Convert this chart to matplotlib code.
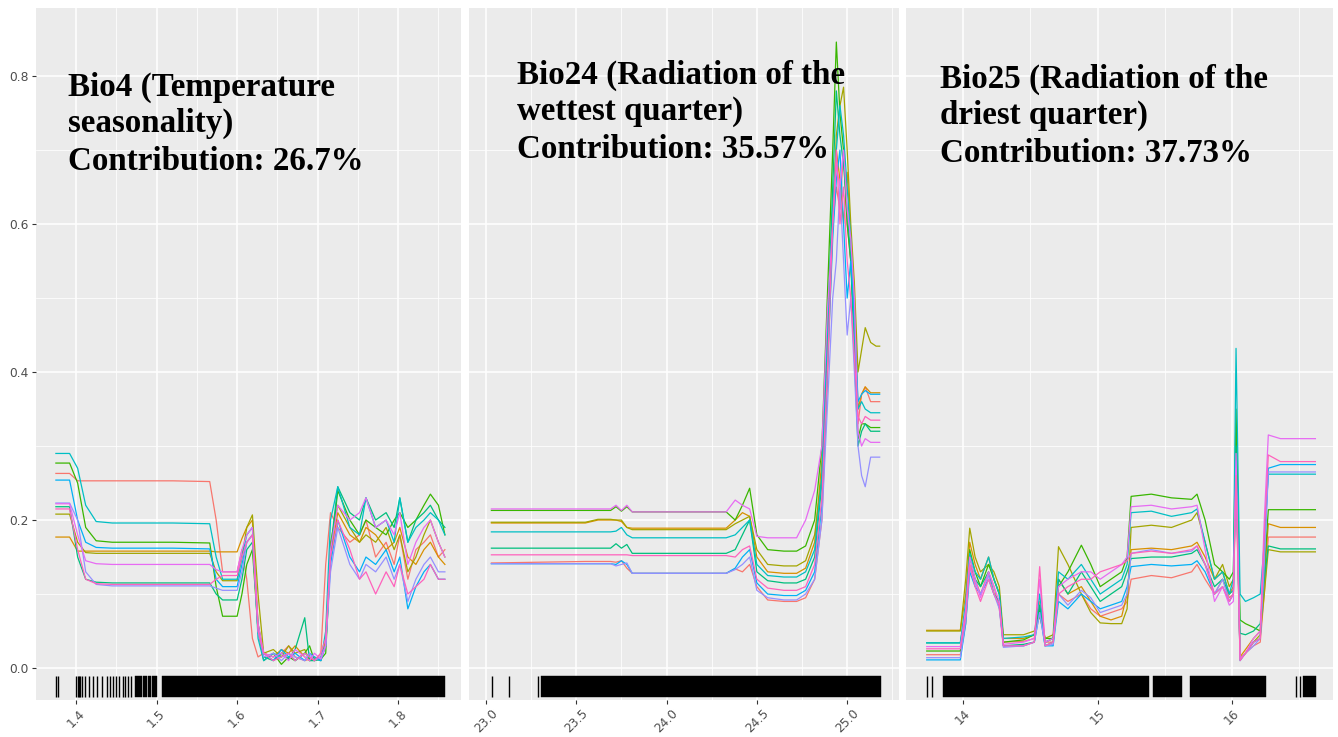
import numpy as np
import matplotlib
matplotlib.use('Agg')
import matplotlib.pyplot as plt
from matplotlib.ticker import MultipleLocator

# ggplot hue colours for the 10 model runs
run_colors = ['#F8766D', '#D89000', '#A3A500', '#39B600', '#00BF7D',
              '#00BFC4', '#00B0F6', '#9590FF', '#E76BF3', '#FF62BC']

# ---- Bio4 ----
bio4_x = [1.375, 1.392, 1.402, 1.412, 1.425, 1.445, 1.520, 1.566, 1.574, 1.582,
          1.600, 1.606, 1.612, 1.619, 1.626, 1.633, 1.645, 1.655, 1.664, 1.672,
          1.684, 1.690, 1.696, 1.704, 1.710, 1.716, 1.725, 1.740, 1.752, 1.760,
          1.772, 1.785, 1.795, 1.802, 1.812, 1.822, 1.832, 1.840, 1.850, 1.858]
bio4_y = [
    [0.263, 0.263, 0.253, 0.253, 0.253, 0.253, 0.253, 0.252, 0.20, 0.13, 0.13, 0.16, 0.12, 0.04, 0.015, 0.02, 0.015, 0.02, 0.03, 0.015,
     0.01, 0.012, 0.01, 0.02, 0.14, 0.21, 0.19, 0.17, 0.18, 0.20, 0.15, 0.17, 0.14, 0.18, 0.12, 0.16, 0.17, 0.18, 0.15, 0.16],
    [0.177, 0.177, 0.158, 0.158, 0.158, 0.158, 0.158, 0.158, 0.157, 0.157, 0.157, 0.175, 0.19, 0.20, 0.06, 0.02, 0.015, 0.025, 0.02, 0.03,
     0.015, 0.01, 0.012, 0.015, 0.03, 0.15, 0.21, 0.18, 0.17, 0.19, 0.18, 0.16, 0.17, 0.19, 0.15, 0.14, 0.16, 0.17, 0.15, 0.14],
    [0.208, 0.208, 0.17, 0.156, 0.155, 0.155, 0.155, 0.155, 0.13, 0.118, 0.118, 0.15, 0.19, 0.207, 0.10, 0.02, 0.025, 0.015, 0.03, 0.02,
     0.025, 0.01, 0.015, 0.01, 0.04, 0.17, 0.22, 0.19, 0.17, 0.18, 0.17, 0.19, 0.16, 0.18, 0.13, 0.15, 0.18, 0.20, 0.17, 0.15],
    [0.277, 0.277, 0.25, 0.19, 0.172, 0.17, 0.17, 0.169, 0.11, 0.07, 0.07, 0.10, 0.14, 0.16, 0.05, 0.01, 0.02, 0.005, 0.015, 0.01,
     0.02, 0.03, 0.01, 0.012, 0.02, 0.15, 0.24, 0.20, 0.18, 0.20, 0.19, 0.18, 0.20, 0.21, 0.19, 0.20, 0.22, 0.235, 0.22, 0.18],
    [0.218, 0.218, 0.15, 0.12, 0.116, 0.115, 0.115, 0.115, 0.10, 0.092, 0.092, 0.12, 0.16, 0.17, 0.06, 0.015, 0.01, 0.02, 0.012, 0.025,
     0.068, 0.01, 0.01, 0.015, 0.03, 0.16, 0.245, 0.21, 0.20, 0.23, 0.20, 0.21, 0.19, 0.23, 0.17, 0.20, 0.21, 0.22, 0.20, 0.19],
    [0.29, 0.29, 0.27, 0.22, 0.198, 0.196, 0.196, 0.195, 0.15, 0.12, 0.12, 0.15, 0.18, 0.19, 0.04, 0.01, 0.02, 0.015, 0.02, 0.01,
     0.02, 0.015, 0.012, 0.01, 0.05, 0.20, 0.245, 0.19, 0.18, 0.23, 0.19, 0.20, 0.17, 0.23, 0.17, 0.19, 0.20, 0.21, 0.20, 0.18],
    [0.254, 0.254, 0.20, 0.17, 0.163, 0.162, 0.162, 0.161, 0.12, 0.11, 0.11, 0.14, 0.17, 0.18, 0.05, 0.02, 0.01, 0.025, 0.015, 0.02,
     0.01, 0.02, 0.015, 0.01, 0.03, 0.14, 0.20, 0.15, 0.13, 0.15, 0.14, 0.16, 0.13, 0.15, 0.08, 0.11, 0.13, 0.14, 0.12, 0.12],
    [0.223, 0.223, 0.20, 0.13, 0.113, 0.111, 0.111, 0.111, 0.108, 0.105, 0.105, 0.13, 0.17, 0.18, 0.05, 0.015, 0.02, 0.01, 0.02, 0.015,
     0.01, 0.02, 0.01, 0.015, 0.03, 0.13, 0.19, 0.14, 0.12, 0.14, 0.13, 0.15, 0.12, 0.14, 0.09, 0.12, 0.14, 0.15, 0.13, 0.13],
    [0.222, 0.222, 0.18, 0.145, 0.141, 0.14, 0.14, 0.14, 0.133, 0.13, 0.13, 0.16, 0.18, 0.19, 0.06, 0.02, 0.015, 0.02, 0.01, 0.025,
     0.015, 0.01, 0.02, 0.012, 0.03, 0.16, 0.22, 0.20, 0.21, 0.23, 0.19, 0.20, 0.18, 0.21, 0.14, 0.17, 0.19, 0.20, 0.17, 0.15],
    [0.215, 0.215, 0.16, 0.12, 0.114, 0.113, 0.113, 0.113, 0.12, 0.125, 0.125, 0.15, 0.17, 0.18, 0.05, 0.02, 0.01, 0.015, 0.02, 0.01,
     0.02, 0.015, 0.01, 0.02, 0.04, 0.15, 0.20, 0.16, 0.12, 0.13, 0.10, 0.13, 0.11, 0.14, 0.10, 0.11, 0.12, 0.14, 0.12, 0.12],
]
bio4_rug_ticks = [1.375, 1.3776, 1.400, 1.4019, 1.4037, 1.405, 1.4075, 1.411, 1.4155, 1.421, 1.426,
                  1.4317, 1.438, 1.442, 1.446, 1.4497, 1.4538, 1.458, 1.461, 1.465, 1.468]
bio4_rug_spans = [(1.4733, 1.4820), (1.4835, 1.4880), (1.4893, 1.4930), (1.4942, 1.5006), (1.5068, 1.8584)]

# ---- Bio24 ----
bio24_x = [23.03, 23.55, 23.62, 23.69, 23.72, 23.75, 23.78, 23.81, 24.10, 24.33,
           24.38, 24.42, 24.46, 24.50, 24.56, 24.65, 24.72, 24.77, 24.82, 24.86,
           24.89, 24.92, 24.94, 24.96, 24.98, 25.00, 25.02, 25.04, 25.06, 25.08,
           25.10, 25.13, 25.16, 25.18]
bio24_y = [
    [0.142, 0.144, 0.144, 0.144, 0.143, 0.145, 0.135, 0.128, 0.128, 0.128, 0.134, 0.13, 0.14, 0.11, 0.092, 0.09, 0.09,
     0.095, 0.12, 0.20, 0.38, 0.60, 0.65, 0.62, 0.70, 0.60, 0.55, 0.45, 0.33, 0.37, 0.38, 0.36, 0.36, 0.36],
    [0.196, 0.196, 0.20, 0.20, 0.20, 0.198, 0.19, 0.189, 0.189, 0.189, 0.20, 0.21, 0.205, 0.15, 0.13, 0.128, 0.128,
     0.135, 0.17, 0.28, 0.45, 0.62, 0.70, 0.66, 0.60, 0.67, 0.58, 0.50, 0.35, 0.37, 0.38, 0.372, 0.372, 0.372],
    [0.197, 0.197, 0.201, 0.201, 0.20, 0.20, 0.19, 0.187, 0.187, 0.187, 0.195, 0.20, 0.205, 0.16, 0.14, 0.138, 0.138,
     0.145, 0.18, 0.26, 0.42, 0.60, 0.72, 0.76, 0.785, 0.70, 0.60, 0.52, 0.40, 0.43, 0.46, 0.44, 0.435, 0.435],
    [0.213, 0.213, 0.213, 0.213, 0.218, 0.212, 0.218, 0.211, 0.211, 0.211, 0.20, 0.22, 0.243, 0.18, 0.16, 0.158, 0.158,
     0.165, 0.20, 0.30, 0.50, 0.70, 0.846, 0.75, 0.70, 0.60, 0.55, 0.45, 0.31, 0.33, 0.33, 0.325, 0.325, 0.325],
    [0.162, 0.162, 0.162, 0.162, 0.168, 0.162, 0.167, 0.155, 0.155, 0.155, 0.16, 0.18, 0.20, 0.13, 0.118, 0.115, 0.115,
     0.12, 0.15, 0.25, 0.45, 0.65, 0.78, 0.72, 0.68, 0.62, 0.55, 0.42, 0.30, 0.32, 0.33, 0.32, 0.32, 0.32],
    [0.184, 0.184, 0.184, 0.184, 0.185, 0.19, 0.18, 0.176, 0.176, 0.176, 0.18, 0.19, 0.20, 0.14, 0.125, 0.123, 0.123,
     0.13, 0.16, 0.26, 0.45, 0.62, 0.70, 0.76, 0.72, 0.65, 0.58, 0.45, 0.35, 0.36, 0.35, 0.345, 0.345, 0.345],
    [0.141, 0.141, 0.141, 0.141, 0.14, 0.145, 0.14, 0.128, 0.128, 0.128, 0.135, 0.15, 0.16, 0.115, 0.10, 0.098, 0.098,
     0.105, 0.13, 0.22, 0.40, 0.58, 0.66, 0.70, 0.60, 0.50, 0.55, 0.48, 0.36, 0.37, 0.375, 0.37, 0.37, 0.37],
    [0.141, 0.141, 0.141, 0.141, 0.138, 0.14, 0.142, 0.128, 0.128, 0.128, 0.133, 0.14, 0.15, 0.105, 0.095, 0.092, 0.092,
     0.10, 0.12, 0.20, 0.35, 0.50, 0.55, 0.65, 0.55, 0.45, 0.50, 0.40, 0.30, 0.26, 0.245, 0.285, 0.285, 0.285],
    [0.215, 0.215, 0.215, 0.215, 0.22, 0.213, 0.22, 0.211, 0.211, 0.211, 0.227, 0.22, 0.215, 0.178, 0.176, 0.176, 0.176,
     0.20, 0.24, 0.30, 0.48, 0.60, 0.68, 0.65, 0.70, 0.62, 0.58, 0.50, 0.32, 0.30, 0.31, 0.305, 0.305, 0.305],
    [0.153, 0.153, 0.153, 0.153, 0.153, 0.153, 0.153, 0.152, 0.152, 0.152, 0.15, 0.16, 0.165, 0.12, 0.108, 0.105, 0.105,
     0.11, 0.14, 0.23, 0.40, 0.60, 0.70, 0.60, 0.65, 0.55, 0.50, 0.42, 0.34, 0.33, 0.34, 0.335, 0.335, 0.335],
]
bio24_rug_ticks = [23.033, 23.127, 23.290]
bio24_rug_spans = [(23.305, 25.187)]

# ---- Bio25 ----
bio25_x = [13.73, 13.98, 14.02, 14.05, 14.09, 14.13, 14.19, 14.23, 14.27, 14.30,
           14.45, 14.53, 14.57, 14.61, 14.67, 14.71, 14.78, 14.88, 14.95, 15.02,
           15.10, 15.18, 15.22, 15.25, 15.40, 15.55, 15.70, 15.74, 15.80, 15.87,
           15.93, 15.98, 16.01, 16.03, 16.06, 16.10, 16.16, 16.21, 16.24, 16.27,
           16.36, 16.62]
bio25_y = [
    [0.018, 0.018, 0.06, 0.14, 0.12, 0.10, 0.13, 0.11, 0.08, 0.035, 0.036, 0.04, 0.09, 0.035, 0.035, 0.10, 0.09, 0.10, 0.08, 0.07, 0.075,
     0.08, 0.09, 0.12, 0.125, 0.122, 0.13, 0.14, 0.12, 0.10, 0.12, 0.095, 0.10, 0.25, 0.012, 0.02, 0.03, 0.035, 0.10, 0.177, 0.177, 0.177],
    [0.051, 0.051, 0.10, 0.17, 0.14, 0.12, 0.15, 0.12, 0.10, 0.04, 0.04, 0.045, 0.08, 0.035, 0.04, 0.12, 0.10, 0.11, 0.09, 0.07, 0.065,
     0.07, 0.10, 0.16, 0.162, 0.16, 0.165, 0.17, 0.15, 0.12, 0.13, 0.10, 0.11, 0.28, 0.015, 0.025, 0.04, 0.05, 0.12, 0.195, 0.19, 0.19],
    [0.05, 0.05, 0.12, 0.189, 0.15, 0.13, 0.14, 0.13, 0.11, 0.045, 0.045, 0.05, 0.07, 0.04, 0.045, 0.164, 0.14, 0.10, 0.075, 0.061, 0.06,
     0.06, 0.08, 0.19, 0.193, 0.19, 0.20, 0.21, 0.17, 0.12, 0.14, 0.11, 0.12, 0.30, 0.012, 0.02, 0.035, 0.045, 0.10, 0.16, 0.157, 0.157],
    [0.023, 0.023, 0.07, 0.16, 0.13, 0.11, 0.14, 0.12, 0.10, 0.035, 0.038, 0.045, 0.08, 0.04, 0.04, 0.11, 0.13, 0.166, 0.14, 0.11, 0.12,
     0.13, 0.15, 0.232, 0.235, 0.23, 0.228, 0.235, 0.20, 0.14, 0.13, 0.12, 0.13, 0.35, 0.065, 0.06, 0.055, 0.05, 0.13, 0.214, 0.214, 0.214],
    [0.034, 0.034, 0.08, 0.15, 0.12, 0.11, 0.13, 0.10, 0.09, 0.03, 0.032, 0.035, 0.085, 0.03, 0.035, 0.12, 0.10, 0.13, 0.11, 0.09, 0.10,
     0.11, 0.13, 0.148, 0.15, 0.15, 0.155, 0.16, 0.14, 0.11, 0.12, 0.10, 0.105, 0.30, 0.047, 0.045, 0.05, 0.06, 0.12, 0.165, 0.161, 0.161],
    [0.034, 0.034, 0.09, 0.155, 0.13, 0.12, 0.15, 0.12, 0.10, 0.04, 0.042, 0.045, 0.10, 0.035, 0.04, 0.13, 0.12, 0.14, 0.12, 0.10, 0.11,
     0.12, 0.14, 0.21, 0.212, 0.205, 0.21, 0.215, 0.17, 0.12, 0.13, 0.10, 0.12, 0.432, 0.10, 0.09, 0.095, 0.10, 0.17, 0.262, 0.262, 0.262],
    [0.011, 0.011, 0.06, 0.13, 0.11, 0.10, 0.12, 0.10, 0.085, 0.03, 0.03, 0.035, 0.075, 0.03, 0.03, 0.09, 0.08, 0.10, 0.09, 0.08, 0.085,
     0.09, 0.11, 0.137, 0.14, 0.138, 0.14, 0.145, 0.13, 0.10, 0.11, 0.09, 0.10, 0.28, 0.01, 0.02, 0.035, 0.04, 0.15, 0.27, 0.275, 0.275],
    [0.014, 0.014, 0.065, 0.135, 0.115, 0.10, 0.125, 0.10, 0.08, 0.028, 0.03, 0.035, 0.075, 0.03, 0.032, 0.10, 0.085, 0.105, 0.095, 0.075, 0.08,
     0.085, 0.10, 0.155, 0.16, 0.155, 0.158, 0.165, 0.14, 0.10, 0.12, 0.09, 0.10, 0.27, 0.012, 0.02, 0.03, 0.04, 0.14, 0.265, 0.265, 0.265],
    [0.029, 0.029, 0.08, 0.15, 0.12, 0.095, 0.13, 0.11, 0.09, 0.032, 0.035, 0.04, 0.12, 0.035, 0.04, 0.11, 0.12, 0.13, 0.13, 0.12, 0.13,
     0.14, 0.15, 0.218, 0.22, 0.215, 0.218, 0.22, 0.16, 0.09, 0.11, 0.085, 0.09, 0.29, 0.012, 0.02, 0.04, 0.05, 0.20, 0.315, 0.31, 0.31],
    [0.026, 0.026, 0.07, 0.14, 0.11, 0.09, 0.12, 0.10, 0.085, 0.03, 0.03, 0.035, 0.137, 0.03, 0.035, 0.10, 0.11, 0.12, 0.12, 0.13, 0.135,
     0.14, 0.145, 0.155, 0.158, 0.155, 0.16, 0.165, 0.14, 0.10, 0.11, 0.09, 0.10, 0.26, 0.01, 0.02, 0.035, 0.04, 0.18, 0.288, 0.279, 0.279],
]
bio25_rug_ticks = [13.732, 13.770, 16.476, 16.506]
bio25_rug_spans = [(13.851, 15.383), (15.413, 15.628), (15.688, 16.253), (16.528, 16.625)]

labels = [
    ['Bio4 (Temperature', 'seasonality)', 'Contribution: 26.7%'],
    ['Bio24 (Radiation of the', 'wettest quarter)', 'Contribution: 35.57%'],
    ['Bio25 (Radiation of the', 'driest quarter)', 'Contribution: 37.73%'],
]

W, H = 1338, 737
fig = plt.figure(figsize=(W / 100, H / 100), dpi=100)
fig.patch.set_facecolor('white')

# panel pixel boxes (left, right) and shared top/bottom
boxes = [(36, 461), (469, 899), (906, 1333)]
top_px, bot_px = 8, 700
xlims = [(1.3503, 1.878), (22.906, 25.287), (13.576, 16.751)]
xmajor = [0.1, 0.5, 1.0]
xfmt = ['%.1f', '%.1f', '%d']
text_base = [(68, [96, 132, 170]), (517, [84, 120, 158]), (940, [88, 124, 162])]

panels = [(bio4_x, bio4_y, bio4_rug_ticks, bio4_rug_spans),
          (bio24_x, bio24_y, bio24_rug_ticks, bio24_rug_spans),
          (bio25_x, bio25_y, bio25_rug_ticks, bio25_rug_spans)]

rug_lo, rug_hi = -0.0392, -0.0108

for i, (xs, ys, rticks, rspans) in enumerate(panels):
    l, r = boxes[i]
    ax = fig.add_axes([l / W, 1 - bot_px / H, (r - l) / W, (bot_px - top_px) / H])
    ax.set_facecolor('#EBEBEB')
    for s in ax.spines.values():
        s.set_visible(False)
    ax.set_xlim(*xlims[i])
    ax.set_ylim(-0.0432, 0.892)
    ax.xaxis.set_major_locator(MultipleLocator(xmajor[i]))
    ax.xaxis.set_minor_locator(MultipleLocator(xmajor[i] / 2))
    ax.yaxis.set_major_locator(MultipleLocator(0.2))
    ax.yaxis.set_minor_locator(MultipleLocator(0.1))
    ax.grid(which='major', color='white', linewidth=1.1)
    ax.grid(which='minor', color='white', linewidth=0.55)
    ax.set_axisbelow(True)
    ax.tick_params(which='minor', length=0)
    ax.tick_params(which='major', length=3, width=0.8, color='#333333',
                   labelsize=8.8, labelcolor='#4D4D4D', pad=2)
    ax.xaxis.set_major_formatter(matplotlib.ticker.FormatStrFormatter(xfmt[i]))
    plt.setp(ax.get_xticklabels(), rotation=45, ha='center')
    if i == 0:
        ax.yaxis.set_major_formatter(matplotlib.ticker.FormatStrFormatter('%.1f'))
    else:
        ax.tick_params(axis='y', left=False, labelleft=False)

    for j, y in enumerate(ys):
        ax.plot(xs, y, color=run_colors[j], linewidth=0.9)

    ax.vlines(rticks, rug_lo, rug_hi, color='black', linewidth=1.0)
    ax.broken_barh([(a, b - a) for a, b in rspans], (rug_lo, rug_hi - rug_lo),
                   facecolor='black', edgecolor='black', linewidth=0.3)

    tx, bases = text_base[i]
    for line, by in zip(labels[i], bases):
        fig.text(tx / W, 1 - by / H, line, fontsize=23.8, fontweight='bold',
                 family='Liberation Serif', color='black', va='baseline', ha='left')

fig.savefig('out.png', dpi=100, facecolor='white')
